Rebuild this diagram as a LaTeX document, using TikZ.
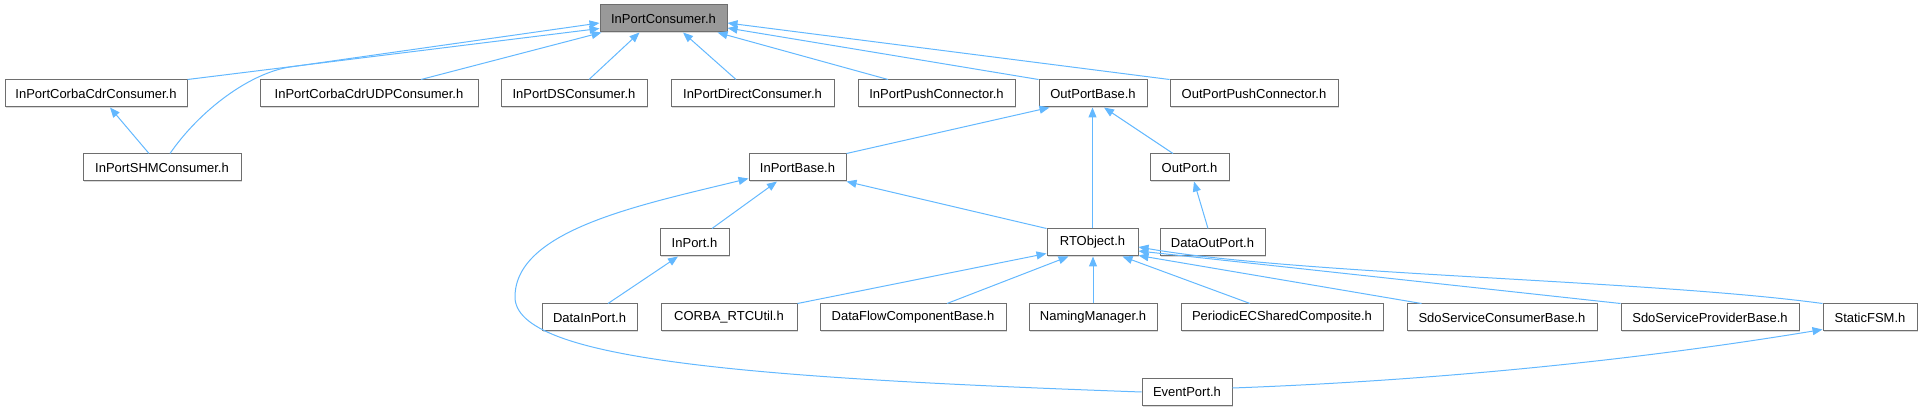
\documentclass[tikz,border=0pt]{standalone}
\usepackage{fontspec}
\setmainfont{Liberation Sans}
\usetikzlibrary{arrows.meta,shadows}
\definecolor{edgeblue}{HTML}{63B8FF}
\definecolor{boxline}{HTML}{6E6E6E}
\definecolor{rootfill}{HTML}{999999}
\tikzset{
  filebox/.style={draw=boxline, line width=1pt, fill=white, inner sep=0pt,
    minimum height=27pt, font=\fontsize{13}{15}\selectfont,
    general shadow={fill=black!15, shadow xshift=1.2pt, shadow yshift=-1.2pt}},
  rootbox/.style={filebox, fill=rootfill},
  dep/.style={draw=edgeblue, line width=1pt, -{Triangle[length=10pt,width=8pt]}}
}
\begin{document}
\begin{tikzpicture}[x=1pt,y=-1pt]
\useasboundingbox (0,0) rectangle (1923,411);
% row 1
\node[rootbox, minimum width=127pt] (ipc) at (663.5,18.5) {InPortConsumer.h};
% row 2
\node[filebox, minimum width=182pt] (icc) at (96,93.5) {InPortCorbaCdrConsumer.h};
\node[filebox, minimum width=218pt] (iudp) at (369,93.5) {InPortCorbaCdrUDPConsumer.h};
\node[filebox, minimum width=146pt] (ids) at (574,93.5) {InPortDSConsumer.h};
\node[filebox, minimum width=163pt] (idir) at (752.5,93.5) {InPortDirectConsumer.h};
\node[filebox, minimum width=157pt] (ipush) at (936.5,93.5) {InPortPushConnector.h};
\node[filebox, minimum width=108pt] (opb) at (1093,93.5) {OutPortBase.h};
\node[filebox, minimum width=168pt] (opush) at (1254,93.5) {OutPortPushConnector.h};
% row 3
\node[filebox, minimum width=158pt] (ishm) at (162,167.5) {InPortSHMConsumer.h};
\node[filebox, minimum width=97pt] (ipb) at (797.5,167.5) {InPortBase.h};
\node[filebox, minimum width=79pt] (op) at (1189.5,167.5) {OutPort.h};
% row 4
\node[filebox, minimum width=69pt] (inport) at (694.5,242.5) {InPort.h};
\node[filebox, minimum width=91pt] (rto) at (1092.5,242.5) {RTObject.h};
\node[filebox, minimum width=105pt] (dop) at (1212.5,242.5) {DataOutPort.h};
% row 5
\node[filebox, minimum width=95pt] (dip) at (589.5,317.5) {DataInPort.h};
\node[filebox, minimum width=136pt] (corba) at (729,317.5) {CORBA\_RTCUtil.h};
\node[filebox, minimum width=186pt] (dfc) at (913,317.5) {DataFlowComponentBase.h};
\node[filebox, minimum width=128pt] (nm) at (1093,317.5) {NamingManager.h};
\node[filebox, minimum width=202pt] (pec) at (1282,317.5) {PeriodicECSharedComposite.h};
\node[filebox, minimum width=190pt] (ssc) at (1502,317.5) {SdoServiceConsumerBase.h};
\node[filebox, minimum width=178pt] (ssp) at (1710,317.5) {SdoServiceProviderBase.h};
\node[filebox, minimum width=94pt] (sfsm) at (1870,317.5) {StaticFSM.h};
% row 6
\node[filebox, minimum width=90pt] (ep) at (1187,392) {EventPort.h};

% edges to InPortConsumer.h
\draw[dep] (icc.north east) -- ([yshift=4pt]ipc.south west);
\draw[dep] ([xshift=8pt]ishm.north) .. controls (200,110) and (250,73) .. (290,67)
  -- ([yshift=-4.5pt]ipc.west);
\draw[dep] ([xshift=52pt]iudp.north) -- ([xshift=2pt]ipc.south west);
\draw[dep] ([xshift=15pt]ids.north) -- ([xshift=40pt]ipc.south west);
\draw[dep] ([xshift=-16.5pt]idir.north) -- ([xshift=19.5pt]ipc.south);
\draw[dep] ([xshift=-48.5pt]ipush.north) -- ([xshift=-10pt]ipc.south east);
\draw[dep] (opb.north west) -- ([yshift=-9.5pt]ipc.east);
\draw[dep] (opush.north west) -- ([yshift=-4.5pt]ipc.east);
% edge to InPortCorbaCdrConsumer.h
\draw[dep] ([xshift=-13pt]ishm.north) -- ([xshift=14pt]icc.south);
% edges to OutPortBase.h
\draw[dep] (ipb.north east) -- ([xshift=11pt]opb.south west);
\draw[dep] ([xshift=-16.5pt]op.north) -- ([xshift=11pt]opb.south);
\draw[dep] (rto.north) -- (rto.north |- opb.south);
% edge to OutPort.h
\draw[dep] ([xshift=-4.5pt]dop.north) -- ([xshift=4.5pt]op.south);
% edges to InPortBase.h
\draw[dep] ([xshift=17.5pt]inport.north) -- ([xshift=-20.5pt]ipb.south);
\draw[dep] (rto.north west) -- (ipb.south east);
\draw[dep] (ep.west) .. controls (750,378) and (515,360) .. (515,297)
  .. controls (515,230) and (640,205) .. ([yshift=3pt]ipb.south west);
% edge to InPort.h
\draw[dep] ([xshift=18.5pt]dip.north) -- ([xshift=-16.5pt]inport.south);
% edges to RTObject.h
\draw[dep] (corba.north east) -- ([yshift=3pt]rto.south west);
\draw[dep] ([xshift=34pt]dfc.north) -- ([xshift=22pt]rto.south west);
\draw[dep] (nm.north) -- (nm.north |- rto.south);
\draw[dep] ([xshift=-32pt]pec.north) -- ([xshift=-16pt]rto.south east);
\draw[dep] ([xshift=15pt]ssc.north west) -- ([yshift=1pt]rto.south east);
\draw[dep] (ssp.north west) -- ([yshift=-8.5pt]rto.east);
\draw[dep] (sfsm.north west) .. controls (1650,280) and (1300,275) .. ([yshift=-4.5pt]rto.east);
% edge to StaticFSM.h
\draw[dep] ([yshift=4pt]ep.east) .. controls (1450,380) and (1650,358) .. ([yshift=2pt]sfsm.south west);
\end{tikzpicture}
\end{document}
